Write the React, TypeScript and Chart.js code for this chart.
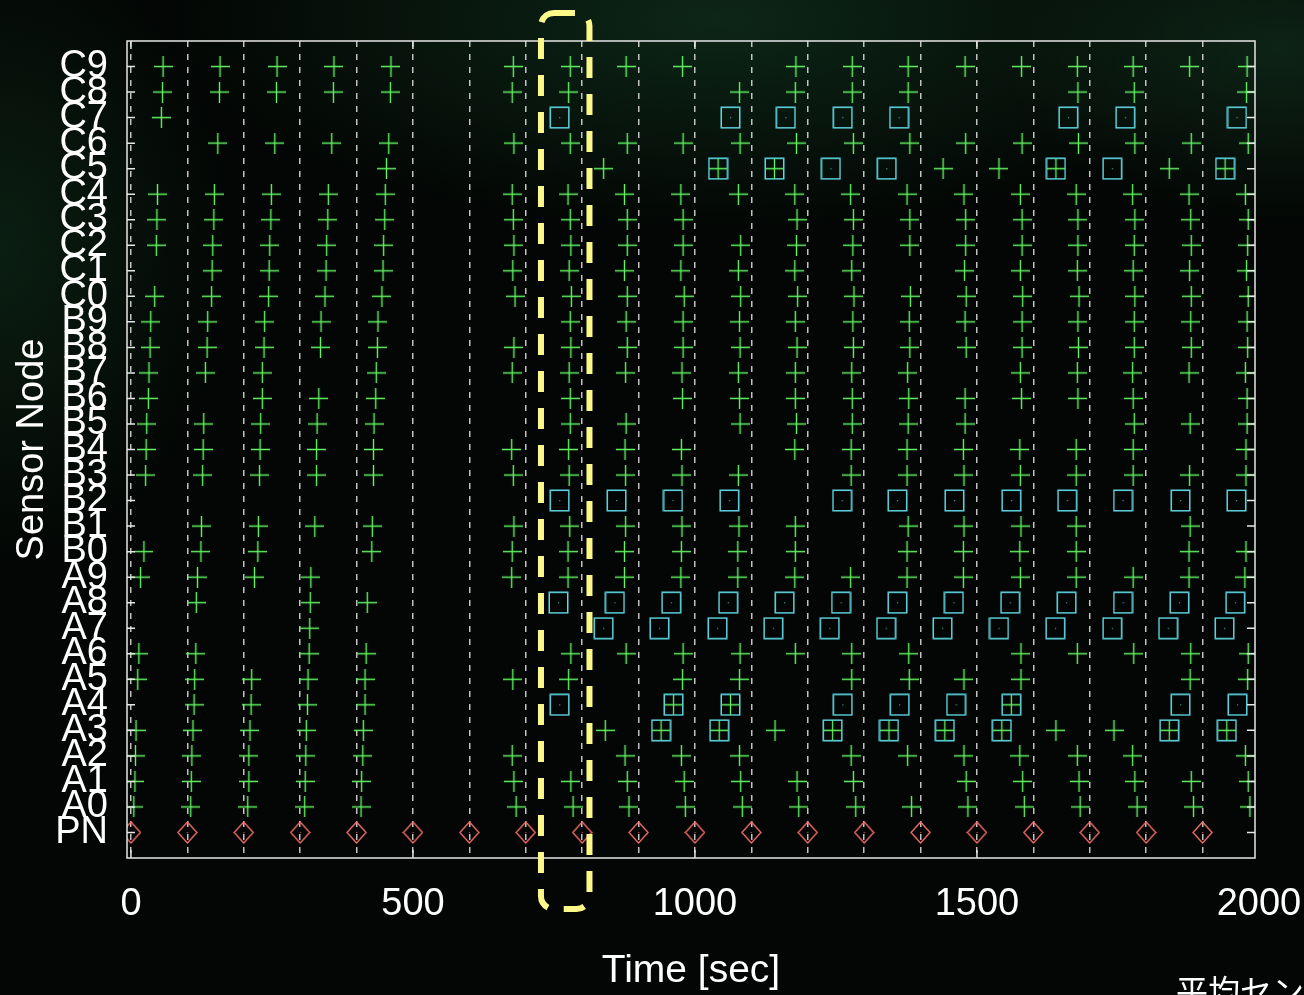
import React, { useEffect, useRef } from 'react';
import { Chart, registerables } from 'chart.js';

Chart.register(...registerables);

// ---------- data ----------
const nodeLabels = [
  'PN',
  'A0', 'A1', 'A2', 'A3', 'A4', 'A5', 'A6', 'A7', 'A8', 'A9',
  'B0', 'B1', 'B2', 'B3', 'B4', 'B5', 'B6', 'B7', 'B8', 'B9',
  'C0', 'C1', 'C2', 'C3', 'C4', 'C5', 'C6', 'C7', 'C8', 'C9',
];

const gridTimes = [0, 100, 200, 300, 400, 500, 600, 700, 800, 900, 1000, 1100, 1200, 1300, 1400, 1500, 1600, 1700, 1800, 1900, 2000];
const xTickLabels = [0, 500, 1000, 1500, 2000];

// PN (sink) beacons
const pnTimes = [0, 100, 200, 300, 400, 500, 600, 700, 800, 900, 1000, 1100, 1200, 1300, 1400, 1500, 1600, 1700, 1800, 1900];

// "+" transmissions per node (sec)
const plusA0 = [5, 106, 207, 308, 408, 683, 784, 883, 983, 1084, 1184, 1285, 1384, 1484, 1584, 1683, 1784, 1884, 1984];
const plusA1 = [7, 107, 209, 309, 409, 679, 780, 880, 981, 1081, 1181, 1281, 1481, 1581, 1681, 1780, 1880, 1981];
const plusA2 = [8, 108, 209, 310, 411, 676, 876, 976, 1079, 1277, 1377, 1477, 1576, 1678, 1776, 1976];
const plusA3 = [9, 110, 211, 311, 412, 841, 1142, 1640, 1743];
const plusA4 = [112, 213, 313, 415];
const plusA5 = [12, 113, 214, 314, 415, 677, 776, 978, 1079, 1278, 1380, 1477, 1578, 1878, 1980];
const plusA6 = [14, 115, 316, 417, 780, 878, 979, 1080, 1178, 1278, 1379, 1578, 1678, 1778, 1879, 1981];
const plusA7 = [317];
const plusA8 = [116, 318, 419];
const plusA9 = [17, 118, 219, 319, 675, 775, 875, 975, 1076, 1177, 1276, 1376, 1476, 1577, 1676, 1777, 1876, 1975];
const plusB0 = [23, 124, 225, 427, 676, 775, 875, 976, 1076, 1178, 1376, 1476, 1576, 1676, 1876, 1977];
const plusB1 = [125, 226, 326, 428, 679, 778, 877, 977, 1078, 1178, 1378, 1477, 1578, 1676, 1878];
const plusB3 = [26, 127, 228, 329, 430, 678, 777, 877, 977, 1077, 1277, 1376, 1477, 1577, 1676, 1777, 1877, 1977];
const plusB4 = [27, 128, 229, 329, 430, 675, 776, 876, 976, 1177, 1277, 1376, 1476, 1576, 1676, 1777, 1977];
const plusB5 = [28, 129, 230, 330, 431, 779, 878, 1080, 1180, 1279, 1378, 1479, 1779, 1878, 1979];
const plusB6 = [31, 233, 333, 434, 779, 978, 1079, 1178, 1279, 1379, 1479, 1579, 1679, 1777, 1979];
const plusB7 = [32, 132, 233, 435, 676, 777, 877, 977, 1077, 1178, 1278, 1377, 1577, 1678, 1776, 1876, 1976];
const plusB8 = [34, 135, 236, 336, 437, 679, 780, 880, 979, 1080, 1181, 1281, 1381, 1481, 1580, 1680, 1779, 1880, 1980];
const plusB9 = [35, 136, 237, 337, 438, 779, 878, 979, 1079, 1178, 1280, 1380, 1479, 1580, 1679, 1779, 1879, 1979];
const plusC0 = [42, 143, 244, 344, 445, 681, 781, 880, 981, 1081, 1182, 1282, 1382, 1481, 1581, 1681, 1780, 1880, 1981];
const plusC1 = [144, 245, 346, 447, 677, 777, 875, 975, 1077, 1177, 1278, 1478, 1577, 1678, 1777, 1877, 1978];
const plusC2 = [45, 145, 246, 347, 448, 679, 780, 880, 979, 1081, 1180, 1280, 1381, 1480, 1580, 1679, 1779, 1880, 1980];
const plusC3 = [46, 147, 248, 349, 450, 678, 779, 880, 979, 1181, 1281, 1381, 1480, 1580, 1679, 1780, 1879, 1981];
const plusC4 = [47, 148, 249, 350, 451, 676, 775, 875, 975, 1077, 1177, 1276, 1376, 1477, 1577, 1676, 1776, 1876, 1976];
const plusC5 = [453, 838, 1440, 1539, 1841];
const plusC6 = [154, 255, 356, 457, 679, 779, 880, 979, 1080, 1180, 1281, 1381, 1480, 1580, 1680, 1780, 1880, 1981];
const plusC7 = [54];
const plusC8 = [56, 157, 258, 359, 460, 676, 776, 1079, 1178, 1279, 1378, 1679, 1779, 1978];
const plusC9 = [57, 158, 259, 360, 461, 678, 779, 878, 978, 1179, 1279, 1378, 1479, 1579, 1678, 1777, 1877, 1979];

// square markers
const sqC7 = [760, 1063, 1161, 1262, 1362, 1662, 1763, 1961];
const sqC5 = [1241, 1340, 1740];
const sqB2 = [760, 861, 961, 1061, 1261, 1359, 1460, 1561, 1660, 1759, 1861, 1960];
const sqA8 = [758, 858, 958, 1059, 1159, 1259, 1359, 1459, 1559, 1659, 1759, 1859, 1958];
const sqA7 = [838, 937, 1040, 1139, 1239, 1339, 1439, 1539, 1639, 1740, 1839, 1939];
const sqA4 = [760, 1262, 1363, 1463, 1861, 1962];

// boxed "+" markers
const bxC5 = [1041, 1141, 1640, 1940];
const bxA4 = [962, 1063, 1561];
const bxA3 = [940, 1043, 1244, 1344, 1443, 1544, 1841, 1943];

// highlighted interval (sec) and its vertical extent (row units)
const highlightFrom = 727;
const highlightTo = 813;
const highlightTop = 32.1;
const highlightBottom = -3.0;

const plusRows: [string, number[]][] = [
  ['A0', plusA0], ['A1', plusA1], ['A2', plusA2], ['A3', plusA3], ['A4', plusA4],
  ['A5', plusA5], ['A6', plusA6], ['A7', plusA7], ['A8', plusA8], ['A9', plusA9],
  ['B0', plusB0], ['B1', plusB1], ['B3', plusB3], ['B4', plusB4], ['B5', plusB5],
  ['B6', plusB6], ['B7', plusB7], ['B8', plusB8], ['B9', plusB9],
  ['C0', plusC0], ['C1', plusC1], ['C2', plusC2], ['C3', plusC3], ['C4', plusC4],
  ['C5', plusC5], ['C6', plusC6], ['C7', plusC7], ['C8', plusC8], ['C9', plusC9],
];
const squareRows: [string, number[]][] = [
  ['C7', sqC7], ['C5', sqC5], ['B2', sqB2], ['A8', sqA8], ['A7', sqA7], ['A4', sqA4],
];
const boxedRows: [string, number[]][] = [['C5', bxC5], ['A4', bxA4], ['A3', bxA3]];

// ---------- styling ----------
const FONT = '"Liberation Sans", Arial, Helvetica, sans-serif';
const GREEN = '#62f262';
const CYAN = '#5fd8e4';
const RED = '#f06c68';
const X_MIN = -7;
const X_MAX = 1993;

function mk(w: number, h: number, draw: (g: CanvasRenderingContext2D) => void) {
  const c = document.createElement('canvas');
  c.width = w;
  c.height = h;
  const g = c.getContext('2d')!;
  draw(g);
  return c;
}

function plusMarker() {
  return mk(19, 21, (g) => {
    g.strokeStyle = GREEN;
    g.lineWidth = 1.4;
    g.beginPath();
    g.moveTo(9.5, 0);
    g.lineTo(9.5, 21);
    g.moveTo(0, 10.5);
    g.lineTo(19, 10.5);
    g.stroke();
  });
}

function squareMarker(withPlus: boolean) {
  return mk(21, 23, (g) => {
    g.strokeStyle = CYAN;
    g.lineWidth = 1.5;
    g.strokeRect(1.25, 1.25, 18.5, 20.5);
    if (withPlus) {
      g.strokeStyle = GREEN;
      g.lineWidth = 1.3;
      g.beginPath();
      g.moveTo(10.5, 1.5);
      g.lineTo(10.5, 21.5);
      g.moveTo(1.5, 11.5);
      g.lineTo(19.5, 11.5);
      g.stroke();
    } else {
      g.fillStyle = 'rgba(95,216,228,0.7)';
      g.fillRect(10, 11, 1.2, 1.2);
    }
  });
}

function diamondMarker() {
  return mk(21, 23, (g) => {
    g.strokeStyle = RED;
    g.lineWidth = 1.4;
    g.beginPath();
    g.moveTo(10.5, 1);
    g.lineTo(20, 11.5);
    g.lineTo(10.5, 22);
    g.lineTo(1, 11.5);
    g.closePath();
    g.stroke();
    g.fillStyle = 'rgba(240,108,104,0.8)';
    g.fillRect(10, 11, 1.2, 1.2);
  });
}

const framePlugin = {
  id: 'gnuFrame',
  afterDatasetsDraw(chart: any) {
    const { ctx, chartArea: a, scales } = chart;
    const xs = scales.x;
    const ys = scales.y;
    ctx.save();
    // frame
    ctx.strokeStyle = '#e6e6e6';
    ctx.lineWidth = 1.5;
    ctx.setLineDash([]);
    ctx.strokeRect(a.left, a.top, a.right - a.left, a.bottom - a.top);
    // inward ticks
    ctx.beginPath();
    const tl = 8;
    nodeLabels.forEach((_, i) => {
      const py = ys.getPixelForValue(i);
      ctx.moveTo(a.left, py);
      ctx.lineTo(a.left + tl, py);
      ctx.moveTo(a.right, py);
      ctx.lineTo(a.right - tl, py);
    });
    xTickLabels.forEach((v) => {
      const px = xs.getPixelForValue(v);
      if (px > a.right + 0.5) return;
      ctx.moveTo(px, a.bottom);
      ctx.lineTo(px, a.bottom - tl);
      ctx.moveTo(px, a.top);
      ctx.lineTo(px, a.top + tl);
    });
    ctx.stroke();

    // highlighted interval
    const x1 = xs.getPixelForValue(highlightFrom);
    const x2 = xs.getPixelForValue(highlightTo);
    const y1 = ys.getPixelForValue(highlightTop);
    const y2 = ys.getPixelForValue(highlightBottom);
    ctx.strokeStyle = '#fcf98a';
    ctx.lineWidth = 6;
    ctx.setLineDash([21, 16]);
    ctx.beginPath();
    if ((ctx as any).roundRect) {
      (ctx as any).roundRect(x1, y1, x2 - x1, y2 - y1, 13);
    } else {
      ctx.rect(x1, y1, x2 - x1, y2 - y1);
    }
    ctx.stroke();
    ctx.restore();
  },
};

export default function App() {
  const ref = useRef<HTMLCanvasElement>(null);

  useEffect(() => {
    if (!ref.current) return;
    const plusImg = plusMarker();
    const squareImg = squareMarker(false);
    const boxedImg = squareMarker(true);
    const diamondImg = diamondMarker();

    const toPoints = (rows: [string, number[]][]) =>
      rows.flatMap(([name, times]) => times.map((t) => ({ x: t, y: nodeLabels.indexOf(name) })));

    const chart = new Chart(ref.current, {
      type: 'scatter',
      data: {
        datasets: [
          { label: 'pn', data: pnTimes.map((t) => ({ x: t, y: nodeLabels.indexOf('PN') })), pointStyle: diamondImg as any, pointRadius: 10 },
          { label: 'plus', data: toPoints(plusRows), pointStyle: plusImg as any, pointRadius: 10 },
          { label: 'square', data: toPoints(squareRows), pointStyle: squareImg as any, pointRadius: 10 },
          { label: 'boxed', data: toPoints(boxedRows), pointStyle: boxedImg as any, pointRadius: 10 },
        ],
      },
      options: {
        animation: false,
        responsive: false,
        events: [],
        layout: { padding: { top: 41, right: 49, left: 0, bottom: 0 } },
        plugins: { legend: { display: false }, tooltip: { enabled: false } },
        scales: {
          x: {
            type: 'linear',
            min: X_MIN,
            max: X_MAX,
            afterBuildTicks: (s: any) => {
              s.ticks = gridTimes.map((v) => ({ value: v }));
            },
            afterFit: (s: any) => {
              s.height = 137;
              s.paddingLeft = 0;
              s.paddingRight = 0;
            },
            grid: {
              display: true,
              drawTicks: false,
              color: (c: any) => (c.tick && c.tick.value > X_MAX ? 'rgba(0,0,0,0)' : 'rgba(215,215,215,0.9)'),
              lineWidth: 1.5,
            },
            border: { display: false, dash: [6, 7] },
            ticks: {
              autoSkip: false,
              maxRotation: 0,
              padding: 24,
              color: '#ffffff',
              font: { family: FONT, size: 38 },
              callback: (v: any) => (xTickLabels.includes(Number(v)) ? String(v) : ''),
            },
            title: {
              display: true,
              text: 'Time [sec]',
              color: '#ffffff',
              font: { family: FONT, size: 39 },
              padding: { top: 0, bottom: 0 },
            },
          },
          y: {
            type: 'linear',
            min: -1,
            max: 31,
            afterBuildTicks: (s: any) => {
              s.ticks = nodeLabels.map((_, i) => ({ value: i }));
            },
            afterFit: (s: any) => {
              s.width = 127;
              s.paddingTop = 0;
              s.paddingBottom = 0;
            },
            grid: { display: false, drawTicks: false },
            border: { display: false },
            ticks: {
              autoSkip: false,
              padding: 19,
              color: '#ffffff',
              font: { family: FONT, size: 38 },
              callback: (v: any) => nodeLabels[Number(v)] ?? '',
            },
            title: {
              display: true,
              text: 'Sensor Node',
              color: '#ffffff',
              font: { family: FONT, size: 38 },
              padding: { top: 10, bottom: 0 },
            },
          },
        },
      },
      plugins: [framePlugin],
    });

    return () => chart.destroy();
  }, []);

  return (
    <div
      style={{
        position: 'fixed',
        left: 0,
        top: 0,
        width: 1304,
        height: 995,
        overflow: 'hidden',
        background:
          'radial-gradient(ellipse 60% 30% at 55% 2%, rgba(22,70,42,0.5), rgba(0,0,0,0) 70%), radial-gradient(ellipse 25% 45% at 0% 25%, rgba(20,60,36,0.45), rgba(0,0,0,0) 70%), radial-gradient(ellipse 30% 25% at 98% 5%, rgba(30,80,50,0.4), rgba(0,0,0,0) 70%), #030604',
      }}
    >
      <canvas ref={ref} width={1304} height={995} style={{ display: 'block', width: 1304, height: 995 }} />
      <div
        style={{
          position: 'absolute',
          left: 1176,
          top: 970,
          fontFamily: '"Noto Sans CJK JP", sans-serif',
          fontSize: 32,
          lineHeight: '38px',
          color: '#ffffff',
          whiteSpace: 'nowrap',
        }}
      >
        平均センサ
      </div>
    </div>
  );
}
